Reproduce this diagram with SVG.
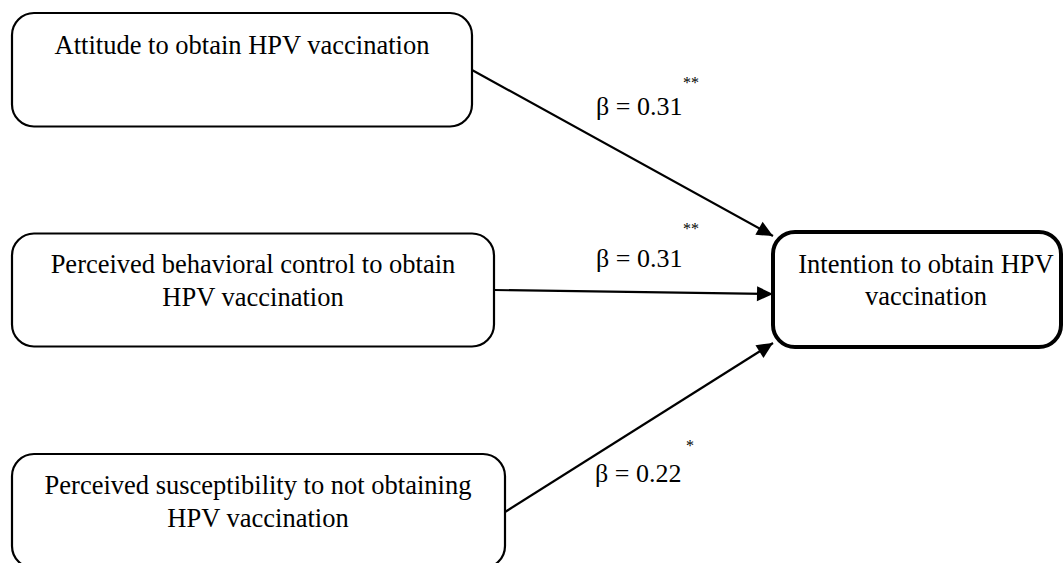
<svg xmlns="http://www.w3.org/2000/svg" width="1063" height="563" viewBox="0 0 1063 563">
<defs>
<style>
.box{fill:#fff;stroke:#000;stroke-width:2.2}
.boxb{fill:#fff;stroke:#000;stroke-width:4}
.t{font-family:"Liberation Serif","Times New Roman",serif;font-size:26.5px;fill:#000;text-anchor:middle}
.lab{font-family:"Liberation Serif","Times New Roman",serif;font-size:26px;fill:#000}
.sup{font-family:"Liberation Serif","Times New Roman",serif;font-size:16px;fill:#000}
.edge{stroke:#000;stroke-width:2.2;fill:none;marker-end:url(#arr)}
</style>
<marker id="arr" markerUnits="userSpaceOnUse" markerWidth="20" markerHeight="20" viewBox="0 0 20 20" refX="17" refY="10" orient="auto">
<path d="M1,2.5 L17,10 L1,17.5 Z" fill="#000"/>
</marker>
</defs>
<rect width="1063" height="563" fill="#fff"/>
<g id="connectors">
<line class="edge" x1="472" y1="70" x2="773" y2="236"/>
<line class="edge" x1="494" y1="290" x2="773" y2="294"/>
<line class="edge" x1="505" y1="512" x2="773" y2="343"/>
</g>
<g id="node-attitude">
<rect class="box" x="12" y="13" width="460" height="113.5" rx="22"/>
<text class="t" x="242" y="54">Attitude to obtain HPV vaccination</text>
</g>
<g id="node-pbc">
<rect class="box" x="12" y="233.5" width="482" height="113" rx="22"/>
<text class="t" x="253" y="273">Perceived behavioral control to obtain</text>
<text class="t" x="253" y="306">HPV vaccination</text>
</g>
<g id="node-susceptibility">
<rect class="box" x="12" y="454" width="493" height="114" rx="22"/>
<text class="t" x="258" y="494">Perceived susceptibility to not obtaining</text>
<text class="t" x="258" y="527">HPV vaccination</text>
</g>
<g id="node-intention">
<rect class="boxb" x="773" y="232" width="288" height="115" rx="22"/>
<text class="t" x="926" y="273">Intention to obtain HPV</text>
<text class="t" x="926" y="305">vaccination</text>
</g>
<g id="labels">
<text class="lab" x="596" y="115">β = 0.31</text>
<text class="sup" x="683" y="88">**</text>
<text class="lab" x="596" y="267">β = 0.31</text>
<text class="sup" x="683" y="234">**</text>
<text class="lab" x="595" y="482">β = 0.22</text>
<text class="sup" x="686" y="451">*</text>
</g>
</svg>
